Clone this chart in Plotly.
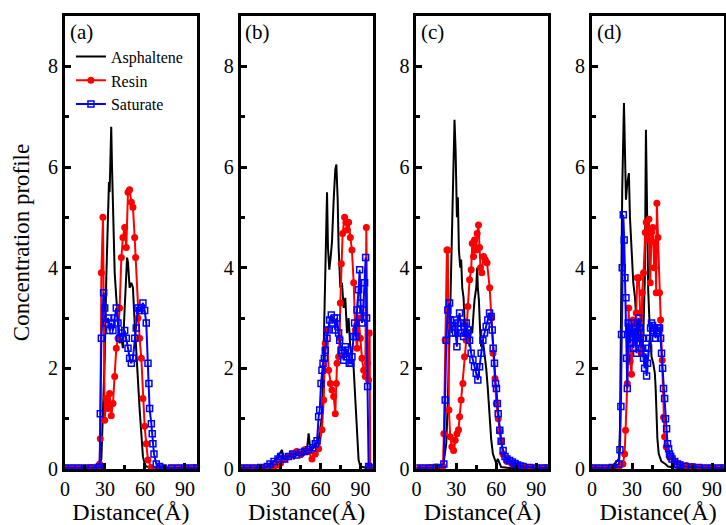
import plotly.graph_objects as go
from plotly.subplots import make_subplots

# ---- panel (a) ----
a_asp_x = [0, 10, 20, 26, 27.3, 28.5, 29.8, 31.0, 32.3, 33.0, 33.5, 34.2, 34.7, 35.3, 36.0, 36.5, 37.3, 38.5,
           39.8, 41.0, 42.3, 43.5, 44.8, 46.0, 46.6, 47.3, 48.5, 49.8, 51.0, 52.3, 53.5, 54.8, 56.0, 57.3,
           58.5, 59.8, 61, 70, 80, 90, 99]
a_asp_y = [0.02, 0.03, 0.02, 0.05, 0.2, 1.0, 2.2, 3.8, 4.9, 5.7, 5.5, 6.3, 6.8, 6.0, 5.1, 4.5, 3.9, 3.4,
           2.9, 2.5, 2.6, 2.4, 3.2, 3.9, 4.2, 4.1, 3.6, 3.7, 3.6, 2.9, 2.3, 1.8, 1.2, 0.7,
           0.25, 0.1, 0.05, 0.02, 0.03, 0.02, 0.02]
a_res_x = [0, 5, 10, 15, 20, 25, 26.0, 26.5, 27.3, 28.5, 29.8, 31.0, 32.3, 33.5, 34.7, 36.0, 37.3, 38.5, 39.8,
           41.0, 42.3, 43.5, 44.8, 46.0, 47.3, 48.5, 49.8, 51.0, 52.3, 53.0, 54.8, 56.0, 57.3, 58.5,
           59.8, 61.0, 62.3, 64.8, 70, 75, 80, 85, 90, 95, 99]
a_res_y = [0.02, 0.02, 0.02, 0.02, 0.03, 0.05, 0.1, 0.6, 3.9, 5.0, 0.97, 1.4, 1.2, 1.5, 1.06, 1.3, 1.84, 2.4, 2.6,
           3.2, 4.2, 4.6, 4.8, 4.4, 5.5, 5.55, 5.3, 5.2, 4.6, 4.2, 3.0, 2.6, 2.2, 1.4,
           0.85, 0.5, 0.18, 0.03, 0.02, 0.02, 0.02, 0.02, 0.02, 0.02, 0.02]
a_sat_x = [0, 5, 10, 15, 20, 25, 26.0, 26.5, 27.3, 29.0, 29.8, 31.0, 32.3, 33.5, 34.7, 36.0, 37.3, 38.5, 39.8,
           41.0, 42.3, 43.5, 44.8, 46.0, 47.3, 48.5, 49.8, 51.0, 52.3, 53.5, 54.8, 56.0, 57.3, 58.5,
           59.8, 61.0, 62.3, 63.0, 63.5, 64.8, 65.5, 66.0, 66.8, 68.5, 71, 73.5, 80, 85, 90, 95, 99]
a_sat_y = [0.02, 0.02, 0.02, 0.02, 0.02, 0.03, 0.04, 1.1, 2.6, 3.5, 3.2, 2.9, 3.0, 2.75, 2.9, 2.75, 3.0, 3.2, 2.9,
           2.6, 2.7, 2.6, 2.75, 2.6, 2.4, 2.2, 2.1, 2.2, 2.6, 2.8, 3.2, 3.15, 3.2, 3.3,
           3.15, 2.9, 2.1, 1.7, 1.2, 0.9, 0.7, 0.5, 0.3, 0.1, 0.05, 0.02, 0.02, 0.02, 0.02, 0.02, 0.02]

# ---- panel (b) ----
b_asp_x = [0, 10, 15, 20, 25, 28, 31.0, 32, 33.5, 35, 36.0, 38, 40, 42, 44, 46.0, 48, 50, 51.0, 52.3, 54, 56.0,
           58.5, 61.0, 62.3, 63.5, 64.8, 65.5, 66.5, 67.5, 68.5, 69.8, 71.0, 71.8, 72.8, 73.5, 74.8, 76.0,
           77.3, 78.5, 79.8, 81.0, 82.3, 83.5, 84.8, 86.0, 87.3, 88.5, 89.8, 95, 99]
b_asp_y = [0.02, 0.03, 0.05, 0.08, 0.15, 0.25, 0.38, 0.2, 0.18, 0.3, 0.24, 0.3, 0.2, 0.3, 0.25, 0.24, 0.3, 0.45, 0.71, 0.38, 0.4, 0.45,
           0.58, 1.04, 2.4, 4.0, 5.5, 4.4, 3.96, 4.2, 4.5, 5.35, 5.95, 6.05, 5.35, 4.4, 3.6, 3.7,
           3.2, 3.4, 2.7, 3.0, 2.4, 2.23, 2.0, 1.4, 0.71, 0.18, 0.05, 0.02, 0.02]
b_res_x = [0, 5, 10, 15, 20, 25, 28, 30, 33, 36, 39, 42, 45, 48, 51.0, 53.5, 56.0, 58.5, 61.0, 62.3, 63.5, 64.8,
           66.0, 67.3, 68.5, 69.8, 71.0, 71.8, 72.3, 73.5, 74.3, 74.8, 75.5, 76.5, 78.0, 79.0, 80.0, 81.0,
           82.3, 83.5, 84.8, 86.0, 87.3, 88.5, 89.8, 91.0, 92.3, 93.5, 94.3, 95.3, 96.0, 96.8, 97.2, 99]
b_res_y = [0.02, 0.02, 0.02, 0.02, 0.03, 0.05, 0.08, 0.12, 0.2, 0.25, 0.3, 0.35, 0.3, 0.38, 0.35, 0.2, 0.3, 0.4, 0.78, 1.37, 2.5, 2.76,
           1.96, 1.7, 1.57, 1.44, 1.1, 1.7, 2.1, 2.23, 2.6, 3.3, 4.08, 4.68, 5.0, 4.9, 4.75, 4.9,
           4.6, 4.35, 3.7, 2.76, 2.4, 3.0, 2.6, 2.2, 1.96, 1.84, 4.8, 2.1, 1.77, 2.7, 0.05, 0.02]
b_sat_x = [0, 5, 10, 15, 20, 22, 25, 28, 30, 33, 36, 39, 42, 45, 48, 51, 54, 56, 57.3, 58.5, 59.3, 60.3, 61.0,
           61.8, 62.8, 63.5, 64.8, 65.5, 66.8, 68.0, 69.0, 70.3, 71.0, 72.3, 73.5, 74.3, 75.3, 76.0, 77.3,
           78.5, 79.8, 80.5, 81.5, 82.8, 83.5, 84.8, 85.5, 86.5, 87.3, 88.5, 89.3, 90.0, 91.0, 92.0, 93.0,
           93.8, 94.5, 95.3, 96.0, 97, 99]
b_sat_y = [0.02, 0.02, 0.02, 0.03, 0.05, 0.1, 0.15, 0.2, 0.25, 0.2, 0.25, 0.3, 0.28, 0.33, 0.35, 0.38, 0.42, 0.5, 0.56, 1.04, 1.17, 1.7, 1.96,
           2.1, 2.2, 2.36, 2.6, 2.76, 2.96, 3.06, 2.9, 3.0, 2.76, 3.0, 2.7, 2.56, 2.36, 2.3, 2.16,
           2.43, 2.23, 2.36, 2.1, 2.1, 2.23, 2.63, 2.9, 2.63, 3.16, 3.56, 3.96, 3.3, 2.9, 3.16, 3.7,
           4.2, 3.0, 1.64, 0.05, 0.02, 0.02]

# ---- panel (c) ----
c_asp_x = [0, 10, 15, 20, 22.4, 23.6, 25.6, 27.4, 28.6, 29.4, 30.4, 31.1, 31.9, 32.9, 33.6, 34.4, 35.4, 36.1,
           37.4, 38.6, 39.9, 41.1, 41.9, 42.9, 43.6, 44.9, 45.6, 46.1, 46.9, 47.9, 48.6, 49.9, 51.1, 52.4,
           53.6, 54.9, 56.1, 57.4, 59.9, 61.1, 63.6, 70, 80, 90, 99]
c_asp_y = [0.02, 0.03, 0.05, 0.05, 0.5, 1.37, 3.4, 5.68, 6.94, 6.35, 5.0, 5.4, 4.35, 4.0, 4.16, 3.6, 3.4, 3.0,
           2.56, 2.7, 2.43, 2.83, 2.7, 3.1, 3.36, 3.6, 4.0, 3.6, 3.36, 2.7, 2.43, 2.56, 2.3, 2.0,
           1.6, 1.0, 0.6, 0.3, 0.11, 0.2, 0.04, 0.02, 0.02, 0.02, 0.02]
c_res_x = [0, 5, 10, 15, 19.9, 20.6, 21.6, 22.9, 23.6, 24.4, 25.4, 26.6, 27.9, 29.1, 30.4, 31.6, 32.4, 33.6,
           34.9, 36.1, 37.4, 38.6, 39.9, 41.1, 41.9, 42.9, 43.6, 44.9, 45.6, 46.6, 47.4, 48.1, 49.1, 50.4,
           51.6, 53.0, 55.0, 56.4, 57.5, 59.0, 60.0, 61.4, 62.6, 63.9, 65.0, 68.0, 72, 76, 80, 85, 90, 95, 99]
c_res_y = [0.02, 0.02, 0.03, 0.04, 0.05, 0.7, 2.56, 4.35, 4.35, 1.17, 0.64, 0.44, 0.37, 0.57, 0.7, 0.78, 1.04, 1.37,
           1.7, 2.23, 2.56, 3.23, 3.76, 3.96, 4.48, 4.22, 4.55, 4.35, 4.68, 4.85, 4.4, 4.0, 3.9, 4.22,
           4.16, 4.1, 3.6, 3.0, 2.3, 1.8, 1.3, 1.0, 0.75, 0.55, 0.3, 0.15, 0.1, 0.06, 0.04, 0.03, 0.02, 0.02, 0.02]
c_sat_x = [0, 5, 10, 15, 20.6, 21.6, 22.4, 23.6, 24.9, 25.6, 26.6, 27.4, 28.6, 29.4, 30.4, 31.1, 32.4, 33.1,
           34.1, 35.4, 36.1, 37.4, 38.1, 39.1, 39.9, 41.1, 42.4, 43.6, 44.9, 46.1, 47.4, 48.6, 49.9, 51.1,
           52.4, 53.6, 54.9, 56.1, 56.9, 57.6, 58.6, 59.4, 60.1, 60.8, 61.4, 62.6, 63.6, 65.1, 66.5, 68, 70,
           72, 74, 76, 78, 80, 85, 90, 95, 99]
c_sat_y = [0.02, 0.02, 0.02, 0.03, 0.1, 1.37, 2.56, 3.16, 3.3, 2.96, 2.7, 2.83, 2.96, 2.7, 2.43, 2.9, 3.1, 2.9,
           2.7, 2.63, 2.83, 2.9, 2.7, 2.76, 2.56, 2.3, 2.17, 2.03, 1.9, 1.77, 2.03, 2.3, 2.56, 2.7,
           2.83, 2.96, 3.1, 3.03, 2.76, 2.4, 2.1, 1.7, 1.6, 1.3, 1.1, 0.77, 0.55, 0.37, 0.25, 0.2, 0.17,
           0.14, 0.11, 0.08, 0.06, 0.05, 0.03, 0.02, 0.02, 0.02]

# ---- panel (d) ----
d_asp_x = [0, 10, 15, 20.1, 20.9, 21.6, 22.6, 23.9, 24.6, 25.4, 26.4, 27.1, 27.6, 28.4, 29.1, 30.1, 30.9, 32.1,
           33.4, 34.6, 35.9, 37.1, 38.4, 39.6, 40.4, 41.1, 42.1, 42.9, 43.9, 44.6, 45.9, 47.1, 47.7, 48.4,
           49.0, 50.0, 51.0, 52.0, 55.0, 57.0, 65, 80, 99]
d_asp_y = [0.02, 0.03, 0.05, 0.2, 0.8, 2.9, 5.55, 7.27, 5.88, 5.35, 5.68, 5.8, 5.88, 5.0, 4.55, 4.16, 3.7, 3.43,
           2.9, 2.76, 2.5, 2.23, 2.63, 3.83, 6.74, 5.2, 3.56, 3.03, 2.5, 2.23, 2.1, 1.9, 1.6, 1.1,
           0.6, 0.3, 0.2, 0.15, 0.1, 0.05, 0.02, 0.02, 0.02]
d_res_x = [0, 5, 10, 15, 20, 23.1, 24.4, 25.1, 26.4, 27.4, 28.6, 29.6, 30.6, 31.9, 33.1, 33.9, 35.1, 36.1, 36.9,
           37.6, 38.6, 39.9, 40.6, 41.9, 42.6, 43.6, 44.6, 45.6, 46.6, 47.4, 48.1, 48.6, 49.4, 50.6, 51.4,
           52.6, 53.6, 54.4, 55.6, 58.1, 61.9, 65.6, 70.6, 75, 80, 85, 90, 95, 99]
d_res_y = [0.02, 0.02, 0.02, 0.02, 0.03, 0.1, 0.3, 0.77, 1.7, 3.2, 2.14, 1.88, 2.96, 2.7, 3.1, 3.8, 3.8, 3.1, 2.3,
           3.5, 3.9, 4.7, 4.9, 4.55, 4.96, 3.7, 4.7, 4.8, 4.0, 4.5, 3.5, 5.28, 4.6, 3.5, 2.96,
           2.16, 1.03, 0.64, 0.44, 0.24, 0.14, 0.1, 0.07, 0.05, 0.03, 0.02, 0.02, 0.02, 0.02]
d_sat_x = [0, 5, 10, 15, 20.1, 20.9, 21.6, 22.1, 22.6, 23.4, 24.1, 24.6, 25.4, 25.9, 26.4, 27.1, 27.6, 28.4,
           29.1, 29.6, 30.4, 31.1, 31.9, 32.6, 33.4, 34.1, 34.9, 35.6, 36.4, 37.1, 37.9, 38.6, 39.4, 40.1,
           40.9, 41.6, 42.4, 43.1, 43.9, 44.6, 45.4, 46.1, 46.9, 47.6, 48.4, 49.1, 49.9, 50.6, 51.4, 52.1,
           52.9, 53.6, 54.4, 55.1, 55.9, 56.6, 57.4, 58.1, 59, 60, 62, 64, 66, 70, 75, 80, 85, 90, 95, 99]
d_sat_y = [0.02, 0.02, 0.02, 0.03, 0.1, 0.38, 1.24, 2.67, 4.0, 5.05, 4.55, 3.8, 3.4, 2.2, 1.6, 2.9, 2.8, 2.5,
           2.7, 2.9, 2.7, 2.4, 2.8, 2.6, 2.3, 2.9, 3.0, 2.8, 2.7, 2.4, 2.6, 2.2, 2.0, 2.3,
           1.85, 2.1, 2.4, 2.6, 2.8, 2.9, 2.85, 2.75, 2.8, 2.6, 2.7, 2.8, 2.75, 2.8, 2.6, 2.3,
           2.0, 1.6, 1.4, 1.0, 0.8, 0.5, 0.4, 0.3, 0.25, 0.2, 0.15, 0.1, 0.08, 0.05, 0.04, 0.03, 0.02, 0.02, 0.02, 0.02]

panels = [
    ("(a)", a_asp_x, a_asp_y, a_res_x, a_res_y, a_sat_x, a_sat_y),
    ("(b)", b_asp_x, b_asp_y, b_res_x, b_res_y, b_sat_x, b_sat_y),
    ("(c)", c_asp_x, c_asp_y, c_res_x, c_res_y, c_sat_x, c_sat_y),
    ("(d)", d_asp_x, d_asp_y, d_res_x, d_res_y, d_sat_x, d_sat_y),
]

font = "Liberation Serif, Times New Roman, serif"

fig = make_subplots(rows=1, cols=4, horizontal_spacing=0.0665)

for i, (lab, ax, ay, rx, ry, sx, sy) in enumerate(panels):
    col = i + 1
    first = (i == 0)
    fig.add_trace(go.Scatter(x=ax, y=ay, mode="lines", name="Asphaltene",
                             line=dict(color="black", width=2), showlegend=first),
                  row=1, col=col)
    fig.add_trace(go.Scatter(x=rx, y=ry, mode="lines+markers", name="Resin",
                             line=dict(color="red", width=2),
                             marker=dict(symbol="circle", size=7, color="red"),
                             showlegend=first),
                  row=1, col=col)
    fig.add_trace(go.Scatter(x=sx, y=sy, mode="lines+markers", name="Saturate",
                             line=dict(color="blue", width=2),
                             marker=dict(symbol="square-open", size=6, color="blue",
                                         line=dict(width=1.5, color="blue")),
                             showlegend=first),
                  row=1, col=col)
    fig.add_annotation(text=lab, xref="x%s domain" % ("" if col == 1 else col),
                       yref="y%s domain" % ("" if col == 1 else col),
                       x=0.02, y=0.995, xanchor="left", yanchor="top", showarrow=False,
                       font=dict(family=font, size=21, color="black"))

fig.update_xaxes(range=[0, 99], dtick=30, tick0=0, ticks="inside", ticklen=6, tickwidth=2.5,
                 tickcolor="black", showline=True, linewidth=3, linecolor="black", mirror=True,
                 showgrid=False, zeroline=False,
                 minor=dict(dtick=15, ticks="inside", ticklen=4, tickwidth=2.5, tickcolor="black"),
                 tickfont=dict(family=font, size=20, color="black"),
                 title=dict(text="Distance(Å)", font=dict(family=font, size=24, color="black"), standoff=2))
fig.update_yaxes(range=[0, 9], dtick=2, tick0=0, ticks="inside", ticklen=6, tickwidth=2.5,
                 tickcolor="black", showline=True, linewidth=3, linecolor="black", mirror=True,
                 showgrid=False, zeroline=False,
                 minor=dict(dtick=1, ticks="inside", ticklen=4, tickwidth=2.5, tickcolor="black"),
                 tickfont=dict(family=font, size=20, color="black"))
fig.update_yaxes(title=dict(text="Concentration profile", font=dict(family=font, size=23, color="black"),
                            standoff=12), row=1, col=1)

fig.update_layout(
    width=726, height=525,
    margin=dict(l=65, r=2, t=16, b=56, autoexpand=False),
    paper_bgcolor="white", plot_bgcolor="white",
    legend=dict(x=0.009, y=0.948, xanchor="left", yanchor="top", bgcolor="rgba(0,0,0,0)",
                font=dict(family=font, size=16, color="black"), tracegroupgap=0, itemwidth=30),
)

fig.write_html("out.html", config={"displayModeBar": False},
               post_script="document.body.style.margin='0';")
